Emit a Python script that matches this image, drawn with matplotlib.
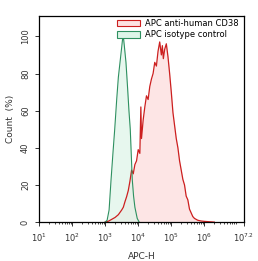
import numpy as np
import matplotlib
matplotlib.use("Agg")
import matplotlib.pyplot as plt
from matplotlib.patches import Patch
from matplotlib.ticker import LogLocator, NullFormatter

# histogram: log10(APC-H), count (%)
iso_log = [3.00, 3.06, 3.12, 3.18, 3.24, 3.29, 3.35, 3.40, 3.45, 3.50, 3.53, 3.55,
           3.58, 3.63, 3.68, 3.72, 3.76, 3.82, 3.86, 3.90, 3.97, 4.03]
iso_cnt = [0, 1, 6.5, 23, 38, 50, 66, 78, 86, 94, 99, 100,
           95, 86, 72, 60, 50, 23, 14, 8, 2, 0]

cd38_log = [3.00, 3.10, 3.20, 3.30, 3.40, 3.50, 3.55, 3.60, 3.65, 3.70, 3.75, 3.80,
            3.85, 3.90, 3.95, 4.00, 4.05, 4.08, 4.10, 4.15, 4.20, 4.25, 4.30, 4.35,
            4.40, 4.45, 4.50, 4.55, 4.60, 4.65, 4.70, 4.73, 4.76, 4.80, 4.85, 4.90,
            4.95, 5.00, 5.05, 5.10, 5.15, 5.20, 5.25, 5.30, 5.35, 5.40, 5.45, 5.50,
            5.55, 5.60, 5.65, 5.70, 5.80, 5.90, 6.00, 6.15, 6.30]
cd38_cnt = [0, 0.5, 1.5, 2.5, 4, 6.5, 8, 11, 13.7, 17, 22, 28,
            26, 31, 33, 39, 37, 62, 45, 55, 62, 68, 66, 73,
            77, 80, 86, 84, 92, 97, 90, 95, 88, 93, 96, 89,
            80, 70, 59, 52, 45, 40, 33, 28, 23, 20, 14, 12,
            7, 5, 3, 2, 1, 0.6, 0.4, 0.2, 0]

tick_pos = [1, 2, 3, 4, 5, 6, 7.2]
tick_txt = ['$10^{1}$', '$10^{2}$', '$10^{3}$', '$10^{4}$', '$10^{5}$', '$10^{6}$', '$10^{7.2}$']

fig = plt.figure(figsize=(2.58, 2.61), dpi=100)
ax = fig.add_axes([0.151, 0.149, 0.795, 0.79])

iso_x = 10 ** np.array(iso_log)
cd_x = 10 ** np.array(cd38_log)

ax.fill_between(cd_x, cd38_cnt, color='#fde3e3', alpha=0.9, lw=0)
ax.fill_between(iso_x, iso_cnt, color='#ddf5e8', alpha=0.7, lw=0)
ax.plot(cd_x, cd38_cnt, color='#cc1f1f', lw=0.9)
ax.plot(iso_x, iso_cnt, color='#2e9060', lw=0.8)

ax.set_xscale('log')
ax.set_xlim(10 ** 1, 10 ** 7.2)
ax.set_ylim(0, 111)
ax.set_xticks([10 ** p for p in tick_pos])
ax.set_xticklabels(tick_txt)
ax.xaxis.set_minor_locator(LogLocator(base=10, subs=np.arange(2, 10), numticks=20))
ax.xaxis.set_minor_formatter(NullFormatter())
ax.set_yticks([0, 20, 40, 60, 80, 100])
ax.tick_params(axis='both', labelsize=6, colors='#333333', length=3, width=0.7)
ax.tick_params(axis='x', which='minor', length=1.5, width=0.5)
for lab in ax.get_yticklabels():
    lab.set_rotation(90)
    lab.set_va('center')
for sp in ax.spines.values():
    sp.set_linewidth(0.9)

ax.set_xlabel('APC-H', fontsize=6.5, color='#333333', labelpad=6)
ax.set_ylabel('Count  (%)', fontsize=6.5, color='#333333', labelpad=4)

handles = [Patch(facecolor='#fde3e3', edgecolor='#cc1f1f', lw=0.8, label='APC anti-human CD38'),
           Patch(facecolor='#ddf5e8', edgecolor='#2e9060', lw=0.8, label='APC isotype control')]
ax.legend(handles=handles, loc='upper right', fontsize=6, frameon=False,
          handlelength=2.8, handleheight=0.9, borderaxespad=0.2, labelspacing=0.25,
          handletextpad=0.6, bbox_to_anchor=(1.0, 1.01))

fig.savefig('out.png', dpi=100)
